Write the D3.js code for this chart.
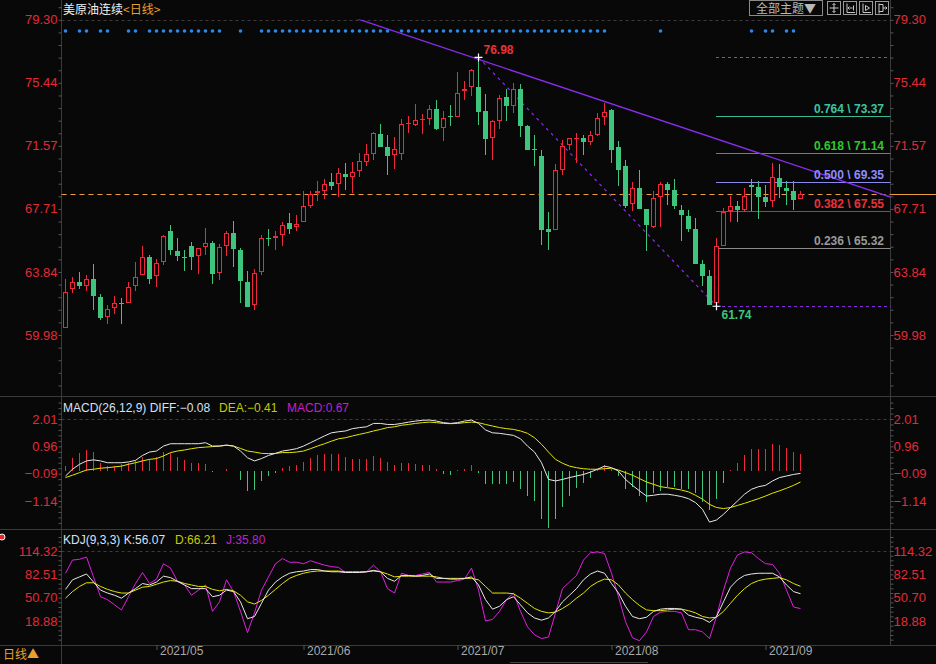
<!DOCTYPE html>
<html>
<head>
<meta charset="utf-8">
<script src="https://cdn.jsdelivr.net/npm/d3@7/dist/d3.min.js"></script>
<style>
    body { margin: 0; background: #080808; overflow: hidden; }
    svg { display: block; }
    text { font-family: "Liberation Sans", Arial, sans-serif; }
    .cjk { font-family: "Noto Sans CJK SC", sans-serif; }
</style>
</head>
<body>
<svg id="chart" width="936" height="664"></svg>
<script>
// daily candles, one per trading day (index 0 = mid April 2021)
const opens = [60.41,62.77,63.24,62.96,63.43,62.32,61.08,61.61,61.96,61.94,62.96,63.63,64.75,63.57,64.44,66.36,65.14,64.77,65.44,64.79,
    65.34,65.63,63.77,65.41,66.24,65.20,63.24,61.81,63.83,65.93,65.95,66.10,66.85,66.57,66.89,67.91,68.67,68.81,69.36,69.20,
    69.85,69.65,70.01,70.57,71.05,72.30,71.50,70.99,71.05,72.91,72.81,73.13,73.19,73.81,72.64,73.40,73.36,74.93,75.19,75.17,
    73.70,72.07,73.11,74.56,74.03,75.05,72.79,71.38,70.95,66.49,66.39,70.10,71.64,72.01,72.05,71.77,72.24,73.30,73.76,71.48,
    70.34,67.99,68.97,67.71,66.59,68.42,69.22,68.83,67.61,67.28,66.49,64.35,63.57,61.94,65.45,67.55,67.89,67.65,69.18,69.04,
    68.42,68.16,69.59,68.97,68.77,68.30];
const highs = [63.43,63.53,63.83,63.67,64.34,62.51,61.82,62.39,62.26,63.24,64.46,65.44,64.85,64.65,66.12,66.73,65.91,65.20,65.69,65.30,
    66.52,65.75,65.57,66.36,66.97,65.32,63.92,64.02,66.12,66.48,66.36,66.87,67.46,67.34,68.79,68.79,69.38,69.55,69.89,70.20,
    70.50,70.57,71.11,71.67,72.44,72.91,72.24,72.09,73.20,73.40,74.13,73.50,74.07,74.38,73.70,74.07,76.09,75.52,76.27,76.98,
    74.74,73.15,74.68,75.03,75.40,75.36,72.85,72.24,71.32,67.50,70.44,71.93,72.05,72.34,72.24,72.48,73.60,74.17,73.83,71.87,
    70.71,69.32,70.10,67.71,68.77,69.36,69.32,69.52,67.95,67.65,67.14,64.55,63.94,65.92,67.75,68.50,68.16,68.97,69.52,69.38,
    69.18,70.50,70.44,69.38,69.38,68.77];
const lows = [60.41,62.53,62.81,62.65,61.49,60.88,60.63,61.24,60.63,61.94,62.65,63.63,63.08,62.90,64.24,64.89,64.49,63.87,63.93,63.69,
    64.85,63.08,63.32,64.79,64.12,61.94,61.71,61.53,63.63,65.40,65.20,65.46,66.16,66.32,66.89,67.75,68.16,68.30,68.87,68.40,
    68.87,68.67,69.63,70.30,70.71,71.52,69.75,70.12,70.71,72.38,72.75,72.28,72.81,72.54,71.89,72.75,73.30,74.34,74.64,72.85,
    71.01,70.71,72.60,73.11,73.60,72.13,71.32,70.34,65.51,65.20,66.39,69.79,71.32,70.54,71.01,71.62,72.17,72.85,70.50,69.12,
    67.75,67.55,67.71,65.10,66.53,66.59,67.95,67.69,65.71,66.26,64.35,62.96,61.80,61.74,65.45,66.87,66.93,67.49,67.59,67.08,
    67.79,67.79,68.36,67.95,67.61,68.30];
const closes = [62.61,63.22,63.00,63.43,62.34,61.00,61.57,61.94,61.94,62.92,63.53,64.75,63.38,64.38,66.06,65.20,64.79,64.73,64.77,65.30,
    65.63,63.69,65.36,66.24,65.22,63.26,61.71,63.77,65.91,65.89,66.03,66.71,66.50,66.77,67.89,68.60,68.79,69.24,69.12,69.89,
    69.63,69.95,70.65,71.05,72.36,71.52,70.97,71.36,72.91,72.97,73.13,73.19,73.81,72.60,73.25,73.30,74.79,75.03,76.21,73.66,
    72.01,73.11,74.48,74.03,75.03,72.79,71.32,71.34,66.43,66.30,70.10,71.56,72.05,72.03,71.77,72.24,73.25,73.64,71.32,70.10,
    67.89,68.97,67.71,66.73,68.36,69.22,68.83,67.91,67.34,66.47,64.35,63.61,61.80,65.41,67.51,67.85,67.65,68.52,69.02,68.42,
    68.10,69.65,69.04,68.77,68.26,68.63];

// MACD(26,12,9)
const diffVals = [-0.18,0.08,0.27,0.40,0.44,0.40,0.33,0.33,0.33,0.36,0.42,0.61,0.74,0.78,0.97,1.06,1.06,1.06,1.06,1.06,
    1.10,0.97,0.97,1.01,0.97,0.78,0.52,0.40,0.49,0.61,0.69,0.78,0.82,0.87,0.97,1.10,1.23,1.36,1.48,1.52,
    1.55,1.64,1.68,1.71,1.84,1.84,1.80,1.80,1.84,1.89,1.93,1.96,1.97,1.93,1.87,1.84,1.87,1.93,1.97,1.84,
    1.59,1.48,1.46,1.42,1.38,1.25,0.97,0.74,0.33,-0.31,-0.37,-0.31,-0.24,-0.18,-0.12,-0.03,0.08,0.20,0.14,0.01,
    -0.31,-0.54,-0.75,-0.95,-0.92,-0.88,-0.88,-0.92,-0.97,-1.05,-1.20,-1.46,-1.95,-1.87,-1.65,-1.39,-1.14,-0.88,-0.69,-0.59,
    -0.54,-0.37,-0.24,-0.18,-0.12,-0.08];
const deaVals = [-0.24,-0.15,-0.05,0.05,0.08,0.12,0.14,0.17,0.20,0.27,0.33,0.40,0.46,0.49,0.59,0.72,0.78,0.82,0.87,0.91,
    0.93,0.95,0.97,1.00,0.97,0.88,0.78,0.74,0.69,0.68,0.69,0.72,0.72,0.74,0.78,0.87,0.97,1.06,1.16,1.25,
    1.29,1.36,1.42,1.48,1.55,1.61,1.68,1.71,1.77,1.80,1.84,1.87,1.89,1.87,1.84,1.83,1.84,1.87,1.89,1.87,
    1.80,1.74,1.68,1.64,1.61,1.55,1.46,1.29,1.04,0.74,0.46,0.31,0.20,0.14,0.10,0.08,0.08,0.10,0.12,0.05,
    -0.05,-0.15,-0.28,-0.41,-0.50,-0.59,-0.63,-0.67,-0.72,-0.79,-0.92,-1.07,-1.27,-1.39,-1.43,-1.39,-1.31,-1.23,-1.14,-1.05,
    -0.95,-0.84,-0.75,-0.65,-0.54,-0.41];
const macdVals = [0.20,0.52,0.69,0.82,0.74,0.33,0.20,0.20,0.27,0.33,0.40,0.56,0.49,0.56,0.74,0.72,0.56,0.44,0.33,0.31,
    0.27,-0.02,0.03,0.10,0.02,-0.35,-0.75,-0.72,-0.37,-0.18,-0.08,0.14,0.20,0.23,0.36,0.52,0.61,0.65,0.65,0.65,
    0.56,0.49,0.49,0.49,0.59,0.52,0.36,0.23,0.31,0.31,0.27,0.23,0.23,0.08,-0.12,-0.15,0.05,0.08,0.23,-0.08,
    -0.47,-0.50,-0.50,-0.50,-0.41,-0.69,-0.95,-1.14,-1.82,-2.16,-1.84,-1.36,-0.95,-0.63,-0.44,-0.24,0.05,0.26,0.10,-0.18,
    -0.67,-0.59,-0.95,-1.18,-0.84,-0.75,-0.59,-0.59,-0.67,-0.67,-0.82,-1.18,-1.48,-1.05,-0.44,0.05,0.33,0.61,0.87,0.87,
    0.87,1.04,1.00,0.91,0.74,0.67];

// KDJ(9,3,3)
const kVals = [62,75,79,83,72,61,57,54,50,57,63,70,68,72,80,78,73,68,63,63,
    63,52,54,61,59,45,22,25,43,61,72,79,84,86,87,89,89,87,86,86,
    85,85,85,86,88,86,77,73,81,81,80,81,83,77,77,76,76,77,79,68,
    48,35,39,48,52,41,30,23,20,23,32,45,54,63,75,83,87,84,70,57,
    39,25,22,24,32,35,36,36,35,27,24,22,17,25,45,65,75,81,83,84,
    84,84,79,68,59,56.07];
const dVals = [50,59,66,71,71,66,62,59,57,57,61,65,66,69,72,74,73,70,68,66,
    66,62,60,62,60,54,45,42,47,54,62,70,77,81,84,86,87,87,87,87,
    86,86,86,86,87,86,83,79,80,80,80,80,80,79,77,77,77,77,77,75,
    66,57,57,57,56,50,43,36,32,30,31,36,42,50,57,66,72,76,75,68,
    57,48,40,34,33,33,34,35,35,33,30,25,23,24,32,43,54,63,70,74,
    76,77,78,75,70,66.21];
const jVals = [84,102,103,106,79,52,48,41,34,52,70,85,70,76,97,91,73,68,54,61,
    68,32,45,75,59,32,3,30,61,79,97,104,99,99,97,101,98,95,93,92,
    85,85,85,86,95,86,63,57,84,81,81,83,85,72,72,72,74,76,91,61,
    19,21,32,48,57,32,11,0,-5,-3,30,63,72,81,102,112,113,111,84,52,
    18,-4,-8,4,25,31,32,32,30,7,7,4,-5,25,61,91,109,113,112,104,
    97,96,84,61,38,35.80];

// blue signal dots along the top
const signalIdx = [0,2,3,5,6,9,10,12,13,14,15,16,17,18,19,20,21,22,25,28,29,30,31,32,33,34,35,36,37,38,39,40,41,42,43,44,45,46,
    48,49,50,51,52,53,54,55,56,57,58,59,60,61,62,63,64,65,66,67,68,69,70,71,72,73,74,75,76,77,85,98,100,101,103,104];

const priceTicks = [79.30, 75.44, 71.57, 67.71, 63.84, 59.98];
const macdTicks = [2.01, 0.96, -0.09, -1.14];
const kdjTicks = [114.32, 82.51, 50.70, 18.88];
const monthLabels = ["2021/05", "2021/06", "2021/07", "2021/08", "2021/09"];
const monthStart = [13, 34, 56, 78, 100];

// golden section drawn from the 76.98 top (index 59) to the 61.74 bottom (index 93)
const swingHigh = { i: 59, p: 76.98 };
const swingLow = { i: 93, p: 61.74 };
const fibRatios = ["0.236", "0.382", "0.500", "0.618", "0.764"];
const fibValues = [65.32, 67.55, 69.35, 71.14, 73.37];
const fibColors = ["#9a9a9a", "#e8323a", "#8c8cff", "#2ec82e", "#3cc4a0"];
const fibLineColors = ["#8a8a8a", "#e02828", "#8a8ae8", "#22b822", "#3cb898"];
// resistance line through the highs
const trendPts = [{ i: 59, p: 76.86 }, { i: 105, p: 70.27 }];

const RED = "#f0283c", GREEN = "#3ec47c", AXIS_RED = "#e22a38";
const svg = d3.select("#chart");

const x = d3.scaleLinear().domain([0, 105]).range([65.5, 800.5]);
const yP = d3.scaleLinear().domain([59.98, 79.30]).range([335, 19.5]);
const yM = d3.scaleLinear().domain([-1.14, 2.01]).range([501, 419]);
const yK = d3.scaleLinear().domain([18.88, 114.32]).range([621, 551]);
const fmt = d3.format(".2f");

const L = 61.5, R = 890.5;

// frame
const frame = svg.append("g").attr("stroke", "#3a3a3a").attr("shape-rendering", "crispEdges");
[396.5, 529.5, 645.5].forEach(y => frame.append("line").attr("x1", 0).attr("x2", 936).attr("y1", y).attr("y2", y));
frame.append("line").attr("x1", L).attr("x2", L).attr("y1", 0).attr("y2", 664);
frame.append("line").attr("x1", R).attr("x2", R).attr("y1", 0).attr("y2", 645);

// top dashed grid lines of each panel
[yP(79.30), yM(2.01), yK(114.32)].forEach(y => {
    svg.append("line").attr("x1", L).attr("x2", R).attr("y1", Math.round(y) + 0.5).attr("y2", Math.round(y) + 0.5)
        .attr("stroke", "#3c3c3c").attr("stroke-dasharray", "3,3");
});

// axes left + right for every panel
function sideAxes(scale, ticks, top, bottom) {
    const gl = svg.append("g").attr("transform", `translate(${L},0)`)
        .call(d3.axisLeft(scale).tickValues(ticks).tickSize(0).tickPadding(4).tickFormat(fmt));
    const gr = svg.append("g").attr("transform", `translate(${R},0)`)
        .call(d3.axisRight(scale).tickValues(ticks).tickSize(0).tickPadding(3).tickFormat(fmt));
    [gl, gr].forEach(g => {
        g.select(".domain").remove();
        g.selectAll("text").attr("fill", AXIS_RED).attr("font-size", 13);
    });
    // minor ticks
    const step = (ticks[0] - ticks[1]) / 5;
    const minor = d3.range(-10, 40).map(k => ticks[ticks.length - 1] + k * step)
        .filter(v => scale(v) > top && scale(v) < bottom);
    svg.append("g").attr("transform", `translate(${L},0)`)
        .call(d3.axisLeft(scale).tickValues(minor).tickSize(3).tickFormat(""))
        .call(g => g.select(".domain").remove())
        .selectAll("line").attr("stroke", "#555");
    svg.append("g").attr("transform", `translate(${R},0)`)
        .call(d3.axisRight(scale).tickValues(minor).tickSize(3).tickFormat(""))
        .call(g => g.select(".domain").remove())
        .selectAll("line").attr("stroke", "#555");
}
sideAxes(yP, priceTicks, 4, 394);
sideAxes(yM, macdTicks, 400, 528);
sideAxes(yK, kdjTicks, 533, 643);

// title
const title = svg.append("text").attr("class", "cjk").attr("x", 63).attr("y", 14).attr("font-size", 12);
title.append("tspan").attr("fill", "#f0f0f0").text("美原油连续");
title.append("tspan").attr("fill", "#e8a030").text("<日线>");

// top-right buttons
svg.append("rect").attr("x", 749.5).attr("y", 0.5).attr("width", 73).attr("height", 15)
    .attr("fill", "none").attr("stroke", "#8a8a8a");
svg.append("text").attr("class", "cjk").attr("x", 756).attr("y", 12.5).attr("font-size", 12)
    .attr("fill", "#b8b8b8").text("全部主题▼");
const icons = [
    "M6.5,2v9M2,6.5h9M5,3.5l1.5,-1.5l1.5,1.5M5,9.5l1.5,1.5l1.5,-1.5",
    "M3.5,2v9M3.5,11h8M10,4v5M9,6.5l-3,0M6,5l-1.5,1.5l1.5,1.5",
    "M3.5,2v9M3.5,11h8M6,4l4,2.5l-4,2.5z",
    "M3.5,2v10M3.5,3h4v7h-4M7.5,6.5h4M10,5l1.5,1.5l-1.5,1.5"
];
icons.forEach((d, k) => {
    const g = svg.append("g").attr("transform", `translate(${827.5 + k * 16},1.5)`);
    g.append("rect").attr("width", 13).attr("height", 13).attr("fill", "none").attr("stroke", "#9a9a9a");
    g.append("path").attr("d", d).attr("fill", "none").attr("stroke", "#c8c8c8");
});

// signal dots
svg.append("g").selectAll("circle").data(signalIdx).join("circle")
    .attr("cx", d => x(d)).attr("cy", 31).attr("r", 1.8).attr("fill", "#2a8ae8");

// clip for main panel
svg.append("clipPath").attr("id", "mainClip").append("rect")
    .attr("x", L).attr("y", yP(79.30)).attr("width", R - L).attr("height", 396 - yP(79.30));

// current price line
const lastY = Math.round(yP(closes[closes.length - 1])) + 0.5;
svg.append("line").attr("x1", L).attr("x2", R).attr("y1", lastY).attr("y2", lastY)
    .attr("stroke", "#e8a040").attr("stroke-dasharray", "5,4");
svg.append("line").attr("x1", R).attr("x2", 936).attr("y1", lastY).attr("y2", lastY).attr("stroke", "#e8a040");

// golden section lines
const fibX0 = x(swingLow.i) - 0.5;
svg.append("line").attr("x1", fibX0).attr("x2", R).attr("y1", Math.round(yP(swingHigh.p)) + 0.5).attr("y2", Math.round(yP(swingHigh.p)) + 0.5)
    .attr("stroke", "#6a6a6a").attr("stroke-dasharray", "3,3");
svg.append("line").attr("x1", fibX0).attr("x2", R).attr("y1", Math.round(yP(swingLow.p)) + 0.5).attr("y2", Math.round(yP(swingLow.p)) + 0.5)
    .attr("stroke", "#8a2be2").attr("stroke-dasharray", "3,3");
fibValues.forEach((v, k) => {
    const y = Math.round(yP(v)) + 0.5;
    svg.append("line").attr("x1", fibX0).attr("x2", R).attr("y1", y).attr("y2", y).attr("stroke", fibLineColors[k]);
});

// trend + swing lines
const main = svg.append("g").attr("clip-path", "url(#mainClip)");
const slope = (trendPts[1].p - trendPts[0].p) / (trendPts[1].i - trendPts[0].i);
main.append("line")
    .attr("x1", x(trendPts[0].i - 40)).attr("y1", yP(trendPts[0].p - 40 * slope))
    .attr("x2", x(trendPts[1].i + 20)).attr("y2", yP(trendPts[1].p + 20 * slope))
    .attr("stroke", "#8c2cf0").attr("stroke-width", 1.3);
main.append("line")
    .attr("x1", x(swingHigh.i)).attr("y1", yP(swingHigh.p))
    .attr("x2", x(swingLow.i)).attr("y2", yP(swingLow.p))
    .attr("stroke", "#8c2cf0").attr("stroke-width", 1.2).attr("stroke-dasharray", "3,4");

// candles
const idx = d3.range(opens.length);
const candles = svg.append("g").attr("shape-rendering", "crispEdges");
idx.forEach(i => {
    const o = opens[i], c = closes[i], up = c > o;
    const col = up ? RED : GREEN;
    const cx = x(i);
    const yTop = Math.round(yP(Math.max(o, c))), yBot = Math.round(yP(Math.min(o, c)));
    const yH = Math.round(yP(highs[i])), yL = Math.round(yP(lows[i]));
    const g = candles.append("g");
    if (yBot - yTop < 2) {
        g.append("line").attr("x1", cx).attr("x2", cx).attr("y1", yH).attr("y2", yL).attr("stroke", col);
        g.append("rect").attr("x", cx - 2.5).attr("y", yTop).attr("width", 5).attr("height", Math.max(1, yBot - yTop)).attr("fill", col);
        return;
    }
    g.append("line").attr("x1", cx).attr("x2", cx).attr("y1", yH).attr("y2", yTop).attr("stroke", col);
    g.append("line").attr("x1", cx).attr("x2", cx).attr("y1", yBot).attr("y2", yL).attr("stroke", col);
    if (up) {
        g.append("rect").attr("x", cx - 2).attr("y", yTop + 0.5).attr("width", 4).attr("height", yBot - yTop - 1)
            .attr("fill", "#080808").attr("stroke", col);
    } else {
        g.append("rect").attr("x", cx - 2.5).attr("y", yTop).attr("width", 5).attr("height", yBot - yTop).attr("fill", col);
    }
});

// swing markers
[swingHigh, swingLow].forEach(s => {
    const cx = x(s.i), cy = yP(s.p);
    svg.append("path").attr("d", `M${cx - 4},${cy}h8M${cx},${cy - 4}v8`).attr("stroke", "#fff").attr("stroke-width", 1.2);
});
svg.append("text").attr("x", x(swingHigh.i) + 5).attr("y", yP(swingHigh.p) - 3).attr("font-size", 12)
    .attr("font-weight", "bold").attr("fill", "#e8323a").text(fmt(swingHigh.p));
svg.append("text").attr("x", x(swingLow.i) + 5).attr("y", yP(swingLow.p) + 13).attr("font-size", 12)
    .attr("font-weight", "bold").attr("fill", GREEN).text(fmt(swingLow.p));

// golden section labels
fibValues.forEach((v, k) => {
    svg.append("text").attr("x", 884).attr("y", Math.round(yP(v)) - 3).attr("text-anchor", "end")
        .attr("font-size", 12).attr("font-weight", "bold").attr("fill", fibColors[k])
        .text(`${fibRatios[k]} \\ ${fmt(v)}`);
});

// MACD histogram + lines
const zeroY = yM(0);
svg.append("g").attr("shape-rendering", "crispEdges").selectAll("line").data(idx).join("line")
    .attr("x1", i => x(i)).attr("x2", i => x(i))
    .attr("y1", zeroY).attr("y2", i => yM(macdVals[i]))
    .attr("stroke", i => macdVals[i] >= 0 ? RED : GREEN);
const lineM = vals => d3.line().x(i => x(i)).y(i => yM(vals[i]))(idx);
svg.append("path").attr("d", lineM(deaVals)).attr("fill", "none").attr("stroke", "#e6e600");
svg.append("path").attr("d", lineM(diffVals)).attr("fill", "none").attr("stroke", "#e8e8e8");

// KDJ lines
svg.append("clipPath").attr("id", "kdjClip").append("rect").attr("x", L).attr("y", 531).attr("width", R - L).attr("height", 114);
const lineK = vals => d3.line().x(i => x(i)).y(i => yK(vals[i]))(idx);
const kg = svg.append("g").attr("clip-path", "url(#kdjClip)");
kg.append("path").attr("d", lineK(jVals)).attr("fill", "none").attr("stroke", "#e020e0");
kg.append("path").attr("d", lineK(dVals)).attr("fill", "none").attr("stroke", "#e6e600");
kg.append("path").attr("d", lineK(kVals)).attr("fill", "none").attr("stroke", "#e8e8e8");

// indicator legends
function legend(y, parts) {
    parts.forEach(p => svg.append("text").attr("x", p[2]).attr("y", y).attr("font-size", 12)
        .attr("fill", p[1]).text(p[0]));
}
const last = idx.length - 1;
legend(412, [[`MACD(26,12,9) DIFF:${fmt(diffVals[last])}`, "#d4e2f6", 63], [`DEA:${fmt(deaVals[last])}`, "#c8c800", 219], [`MACD:${fmt(macdVals[last])}`, "#c020d0", 287]]);
legend(544, [[`KDJ(9,3,3) K:${fmt(kVals[last])}`, "#d4e2f6", 63], [`D:${fmt(dVals[last])}`, "#c8c800", 175], [`J:${fmt(jVals[last])}`, "#c020d0", 226]]);

// small marker left of KDJ
svg.append("circle").attr("cx", 2).attr("cy", 537).attr("r", 3).attr("fill", "#e82828").attr("stroke", "#fff");

// bottom time axis
const gx = svg.append("g").attr("transform", "translate(0,645)")
    .call(d3.axisBottom(x).tickValues(monthStart).tickSize(5).tickFormat((d, k) => monthLabels[k]));
gx.select(".domain").remove();
gx.selectAll("line").attr("stroke", "#555");
gx.selectAll("text").attr("fill", "#a8a8a8").attr("font-size", 12).attr("text-anchor", "start")
    .attr("x", 3).attr("dy", "0.2em");
svg.append("text").attr("class", "cjk").attr("x", 3).attr("y", 659).attr("font-size", 12)
    .attr("fill", "#e8a030").text("日线▲");
svg.append("line").attr("x1", 510).attr("x2", 648).attr("y1", 662.5).attr("y2", 662.5).attr("stroke", "#444");
</script>
</body>
</html>
